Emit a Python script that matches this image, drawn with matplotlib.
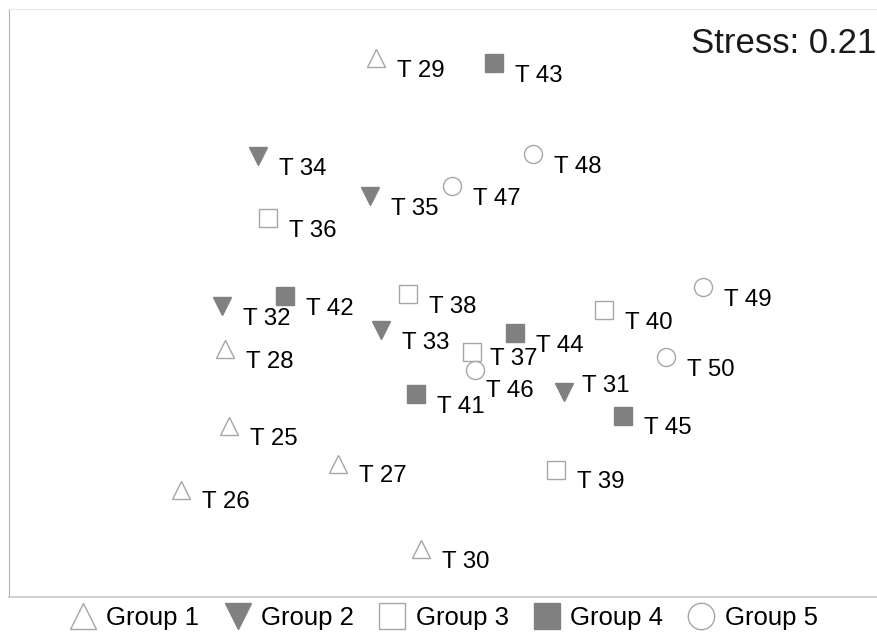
import matplotlib
matplotlib.use("Agg")
from matplotlib import pyplot as plt
from matplotlib.lines import Line2D

plt.rcParams['font.family'] = ['Liberation Sans', 'DejaVu Sans']

# NMDS coordinates, per group.
g1_names = ['T 29', 'T 28', 'T 25', 'T 27', 'T 26', 'T 30']
g1_x = [-0.32, -1.075, -1.055, -0.51, -1.295, -0.095]
g1_y = [1.21, -0.245, -0.63, -0.82, -0.95, -1.245]

g2_names = ['T 34', 'T 35', 'T 32', 'T 33', 'T 31']
g2_x = [-0.91, -0.35, -1.09, -0.295, 0.62]
g2_y = [0.72, 0.52, -0.03, -0.15, -0.46]

g3_names = ['T 36', 'T 38', 'T 40', 'T 37', 'T 39']
g3_x = [-0.86, -0.16, 0.82, 0.16, 0.58]
g3_y = [0.41, 0.03, -0.05, -0.26, -0.85]

g4_names = ['T 43', 'T 42', 'T 44', 'T 41', 'T 45']
g4_x = [0.27, -0.775, 0.375, -0.12, 0.915]
g4_y = [1.185, 0.02, -0.165, -0.47, -0.58]

g5_names = ['T 48', 'T 47', 'T 49', 'T 50', 'T 46']
g5_x = [0.465, 0.06, 1.315, 1.13, 0.175]
g5_y = [0.73, 0.57, 0.065, -0.285, -0.35]

group_labels = ['Group 1', 'Group 2', 'Group 3', 'Group 4', 'Group 5']
stress = 0.21

GRAY = '#808080'
EDGE = '#a6a6a6'

# Marker style for each group: (marker, face, edge).
styles = [
    ('^', 'white', EDGE),
    ('v', GRAY, GRAY),
    ('s', 'white', EDGE),
    ('s', GRAY, GRAY),
    ('o', 'white', EDGE),
]

groups = [
    (g1_names, g1_x, g1_y),
    (g2_names, g2_x, g2_y),
    (g3_names, g3_x, g3_y),
    (g4_names, g4_x, g4_y),
    (g5_names, g5_x, g5_y),
]

# Labels that sit off the usual spot (offset in points).
label_offset = {'T 37': (13, -5), 'T 46': (8, -15), 'T 31': (13, 4)}

fig = plt.figure(figsize=(8.78, 6.34), dpi=100)
ax = fig.add_axes([9 / 878, 37 / 634, 869 / 878, 588 / 634])

for (names, xs, ys), (mk, fc, ec) in zip(groups, styles):
    ax.plot(xs, ys, linestyle='none', marker=mk, ms=13, mfc=fc, mec=ec, mew=1.0)
    for n, x, y in zip(names, xs, ys):
        dx, dy = label_offset.get(n, (15, -9))
        ax.annotate(n, (x, y), xytext=(dx, dy), textcoords='offset points',
                    ha='left', va='center', fontsize=17.3, color='black')

ax.set_xlim(-2.155, 2.19)
ax.set_ylim(-1.485, 1.455)
ax.set_xticks([])
ax.set_yticks([])
ax.spines['left'].set_color('#b4b4b4')
ax.spines['bottom'].set_color('#d2d2d2')
ax.spines['bottom'].set_linewidth(1.5)
ax.spines['top'].set_color('#e6e6e6')
ax.spines['right'].set_visible(False)

ax.text(0.998, 0.941, 'Stress: %.2f' % stress, transform=ax.transAxes, ha='right', va='center',
        fontsize=25, color='#1a1a1a')

handles = [Line2D([], [], linestyle='none', marker=mk, ms=19, mfc=fc, mec=ec, mew=1.0)
           for mk, fc, ec in styles]
fig.legend(handles, group_labels, loc='center', bbox_to_anchor=(0.5 + 5 / 878, 16.5 / 634), ncol=5,
           frameon=False, fontsize=18.5, handletextpad=0.42, columnspacing=0.98,
           handlelength=1.0, borderpad=0)

fig.savefig('out.png', dpi=100)
